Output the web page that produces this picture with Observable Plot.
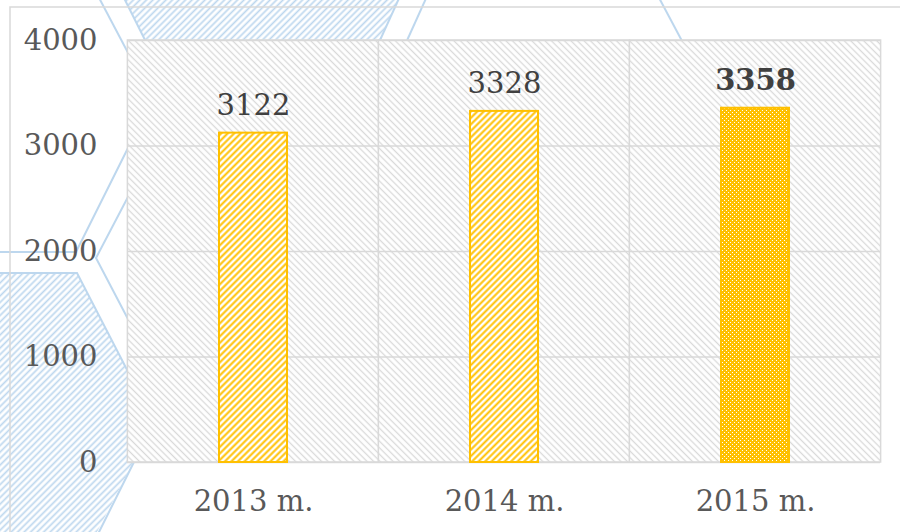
<!DOCTYPE html>
<html><head><meta charset="utf-8">
<script src="https://cdn.jsdelivr.net/npm/d3@7"></script>
<script src="https://cdn.jsdelivr.net/npm/@observablehq/plot@0.6"></script>
<style>
body{margin:0;background:#fff;}
#wrap{position:relative;width:900px;height:532px;overflow:hidden;}
#deco,#chart{position:absolute;left:0;top:0;}
#chart svg{overflow:visible;}
</style></head><body>
<svg width="0" height="0" style="position:absolute">
  <defs>
    <pattern id="bgHatch" width="10" height="4.6" patternUnits="userSpaceOnUse" patternTransform="rotate(45)">
      <rect width="10" height="4.6" fill="#fff"/>
      <line x1="0" y1="2.3" x2="10" y2="2.3" stroke="#d9d9d9" stroke-width="1.3"/>
    </pattern>
    <pattern id="yHatch" width="10" height="4.6" patternUnits="userSpaceOnUse" patternTransform="rotate(-45)">
      <rect width="10" height="4.6" fill="#fff"/>
      <line x1="0" y1="2.3" x2="10" y2="2.3" stroke="#FFC000" stroke-width="2"/>
    </pattern>
    <pattern id="yCheck" width="4" height="4" patternUnits="userSpaceOnUse">
      <rect width="4" height="4" fill="#FFC000"/>
      <rect x="0" y="0" width="1" height="1" fill="#fff"/>
      <rect x="2" y="2" width="1" height="1" fill="#fff"/>
    </pattern>
    <pattern id="bHatch" width="10" height="4.6" patternUnits="userSpaceOnUse" patternTransform="rotate(-45)">
      <line x1="0" y1="2.3" x2="10" y2="2.3" stroke="#bdd7ee" stroke-width="1.7"/>
    </pattern>
  </defs>
</svg>
<div id="wrap">
  <svg id="deco" width="900" height="532">
    <g fill="url(#bHatch)" stroke="none">
      <polygon points="122,-6 401,-6 371,60 155,60"/>
      <polygon points="-10,273 77,273 154,422 97,532 60,620 -10,620"/>
    </g>
    <g fill="none" stroke="#bdd7ee" stroke-width="2">
      <line x1="122" y1="-6" x2="155" y2="60"/>
      <line x1="401" y1="-6" x2="371" y2="60"/>
      <polyline points="0,273 77,273 154,422 80,570"/>
      <line x1="97" y1="-6" x2="135" y2="66"/>
      <line x1="428" y1="-6" x2="400" y2="56"/>
      <line x1="657" y1="-6" x2="690" y2="56"/>
      <polyline points="0,252 76,252 140,124"/>
      <polyline points="140,174 96,258 140,342"/>
    </g>
    <g fill="none" stroke="#d9d9d9" stroke-width="1.5">
      <polyline points="10,540 10,7 910,7"/>
    </g>
  </svg>
  <div id="chart"></div>
</div>
<script>
const years = ["2013 m.", "2014 m.", "2015 m."];
const values = [3122, 3328, 3358];
const yTicks = [0, 1000, 2000, 3000, 4000];
const yMax = 4000;

const data = years.map((year, i) => ({year, value: values[i]}));
const lastYear = years[years.length - 1];

const W = 900, H = 532, mL = 127, mR = 20, mT = 40, mB = 70;
const padInner = 0.73;
const step = (W - mL - mR) / years.length;
const cellInset = -(step * padInner) / 2;

const chart = Plot.plot({
  width: W, height: H,
  marginLeft: mL, marginRight: mR, marginTop: mT, marginBottom: mB,
  style: {fontFamily: "DejaVu Serif", fontSize: "29px", color: "#595959", background: "transparent"},
  x: {domain: years, paddingInner: padInner, paddingOuter: padInner / 2, label: null},
  y: {domain: [0, yMax], label: null},
  marks: [
    Plot.barY(years, {x: d => d, y1: 0, y2: yMax, fill: "url(#bgHatch)", stroke: "#d9d9d9", strokeWidth: 1.5, insetLeft: cellInset, insetRight: cellInset}),
    Plot.ruleY(yTicks, {y: d => d, stroke: "#d9d9d9", strokeWidth: 1.5}),
    Plot.barY(data, {filter: d => d.year !== lastYear, x: "year", y: "value", fill: "url(#yHatch)", stroke: "#FFC000", strokeWidth: 2, insetLeft: 0, insetRight: 0}),
    Plot.barY(data, {filter: d => d.year === lastYear, x: "year", y: "value", fill: "url(#yCheck)", stroke: "#FFC000", strokeWidth: 2, insetLeft: 0, insetRight: 0}),
    Plot.text(data, {filter: d => d.year !== lastYear, x: "year", y: "value", text: d => String(d.value), dy: -18, lineAnchor: "bottom", fill: "#404040", fontSize: 29}),
    Plot.text(data, {filter: d => d.year === lastYear, x: "year", y: "value", text: d => String(d.value), dy: -18, lineAnchor: "bottom", fill: "#404040", fontSize: 29, fontWeight: "bold"}),
    Plot.axisY({ticks: yTicks, tickFormat: d => String(d), tickSize: 0, tickPadding: 30, fill: "#595959", fontSize: 29}),
    Plot.axisX({tickSize: 0, tickPadding: 28, fill: "#595959", fontSize: 29})
  ]
});
document.getElementById("chart").appendChild(chart);
</script>
</body></html>
